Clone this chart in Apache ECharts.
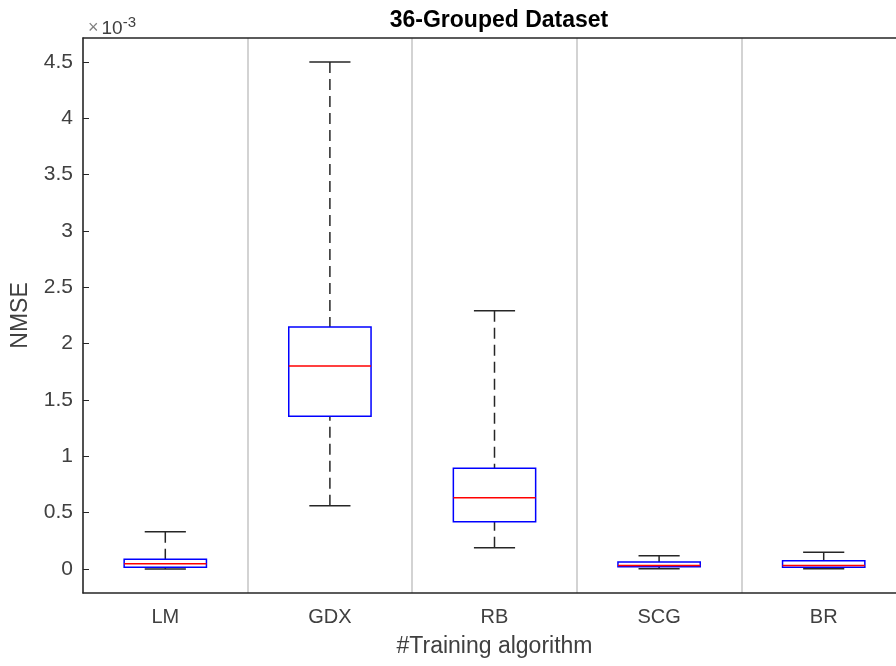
<!DOCTYPE html>
<html>
<head>
<meta charset="utf-8">
<script src="https://cdn.jsdelivr.net/npm/echarts@6/dist/echarts.min.js"></script>
<style>
  html, body { margin: 0; padding: 0; background: #fff; overflow: hidden; }
  #chart { width: 910px; height: 666px; }
</style>
</head>
<body>
<div id="chart"></div>
<script>
// NMSE values, in units of 1e-3
const algorithms = ['LM', 'GDX', 'RB', 'SCG', 'BR'];
const whiskerLow = [0.000, 0.562, 0.189, 0.003, 0.003];
const quartile1 = [0.015, 1.355, 0.420, 0.020, 0.015];
const medians = [0.047, 1.801, 0.633, 0.030, 0.030];
const quartile3 = [0.086, 2.147, 0.893, 0.062, 0.074];
const whiskerHigh = [0.331, 4.500, 2.292, 0.118, 0.148];
const yTicks = [0, 0.5, 1, 1.5, 2, 2.5, 3, 3.5, 4, 4.5];

const boxData = algorithms.map((a, i) => [i, whiskerLow[i], quartile1[i], medians[i], quartile3[i], whiskerHigh[i]]);

const textColor = '#404040';
const axisColor = '#262626';
const font = 'Liberation Sans, Arial, sans-serif';

function renderBox(params, api) {
    const i = api.value(0);
    const band = api.size([1, 0])[0];
    const half = band * 0.25;
    const capHalf = band * 0.125;
    const c = api.coord([i, 0])[0];
    const yLow = api.coord([i, api.value(1)])[1];
    const yQ1 = api.coord([i, api.value(2)])[1];
    const yMed = api.coord([i, api.value(3)])[1];
    const yQ3 = api.coord([i, api.value(4)])[1];
    const yHigh = api.coord([i, api.value(5)])[1];
    const dash = { stroke: axisColor, lineWidth: 1.5, lineDash: [11, 6] };
    const solid = { stroke: axisColor, lineWidth: 1.5 };
    return {
        type: 'group',
        children: [
            { type: 'line', shape: { x1: c, y1: yHigh, x2: c, y2: yQ3 }, style: dash },
            { type: 'line', shape: { x1: c, y1: yLow, x2: c, y2: yQ1 }, style: dash },
            { type: 'line', shape: { x1: c - capHalf, y1: yHigh, x2: c + capHalf, y2: yHigh }, style: solid },
            { type: 'line', shape: { x1: c - capHalf, y1: yLow, x2: c + capHalf, y2: yLow }, style: solid },
            { type: 'rect', shape: { x: c - half, y: yQ3, width: half * 2, height: yQ1 - yQ3 },
              style: { fill: 'none', stroke: '#0000ff', lineWidth: 1.5 } },
            { type: 'line', shape: { x1: c - half, y1: yMed, x2: c + half, y2: yMed },
              style: { stroke: '#ff0000', lineWidth: 1.5 } }
        ]
    };
}

const chart = echarts.init(document.getElementById('chart'));
chart.setOption({
    animation: false,
    title: [
        {
            text: '36-Grouped Dataset', left: 494, textAlign: 'center', top: 4,
            textStyle: { fontFamily: font, fontSize: 23, fontWeight: 'bold', color: '#000' }
        },
        {
            text: '{x|×}{n|10}{e|-3}', left: 83, top: 10,
            textStyle: {
                fontWeight: 'normal',
                rich: {
                    x: { fontFamily: font, fontSize: 18, fontWeight: 'normal', color: '#808080', padding: [4, 3, 0, 0] },
                    n: { fontFamily: font, fontSize: 19, fontWeight: 'normal', color: textColor, padding: [4, 0, 0, 0] },
                    e: { fontFamily: font, fontSize: 15, fontWeight: 'normal', color: textColor, verticalAlign: 'top', padding: [0, 0, 8, 0] }
                }
            }
        }
    ],
    grid: { left: 83, top: 38, width: 823, bottom: 73 },
    xAxis: [
        {
            type: 'category', data: algorithms, position: 'bottom',
            name: '#Training algorithm', nameLocation: 'middle', nameGap: 42,
            nameTextStyle: { fontFamily: font, fontSize: 23, color: textColor },
            axisLine: { onZero: false, lineStyle: { color: axisColor, width: 1.5 } },
            axisTick: { inside: true, alignWithLabel: true, length: 6, lineStyle: { color: axisColor } },
            axisLabel: { fontFamily: font, fontSize: 20, color: textColor, margin: 14 },
            splitLine: { show: true, interval: 0, lineStyle: { color: '#c4c4c4', width: 1.5 } }
        },
        {
            type: 'category', data: algorithms, position: 'top',
            axisLine: { onZero: false, lineStyle: { color: axisColor, width: 1.5 } },
            axisTick: { inside: true, alignWithLabel: true, length: 6, lineStyle: { color: axisColor } },
            axisLabel: { show: false },
            splitLine: { show: false }
        }
    ],
    yAxis: {
        type: 'value', min: -0.213, max: 4.712,
        name: 'NMSE', nameLocation: 'middle', nameGap: 51,
        nameTextStyle: { fontFamily: font, fontSize: 23, color: textColor },
        axisLine: { show: true, lineStyle: { color: axisColor, width: 1.5 } },
        axisTick: { show: true, inside: true, length: 6, customValues: yTicks, lineStyle: { color: axisColor } },
        axisLabel: { fontFamily: font, fontSize: 21, color: textColor, margin: 10, customValues: yTicks },
        splitLine: { show: false }
    },
    series: [{
        type: 'custom',
        renderItem: renderBox,
        encode: { x: 0, y: [1, 2, 3, 4, 5] },
        data: boxData,
        clip: false
    }]
});
</script>
</body>
</html>
